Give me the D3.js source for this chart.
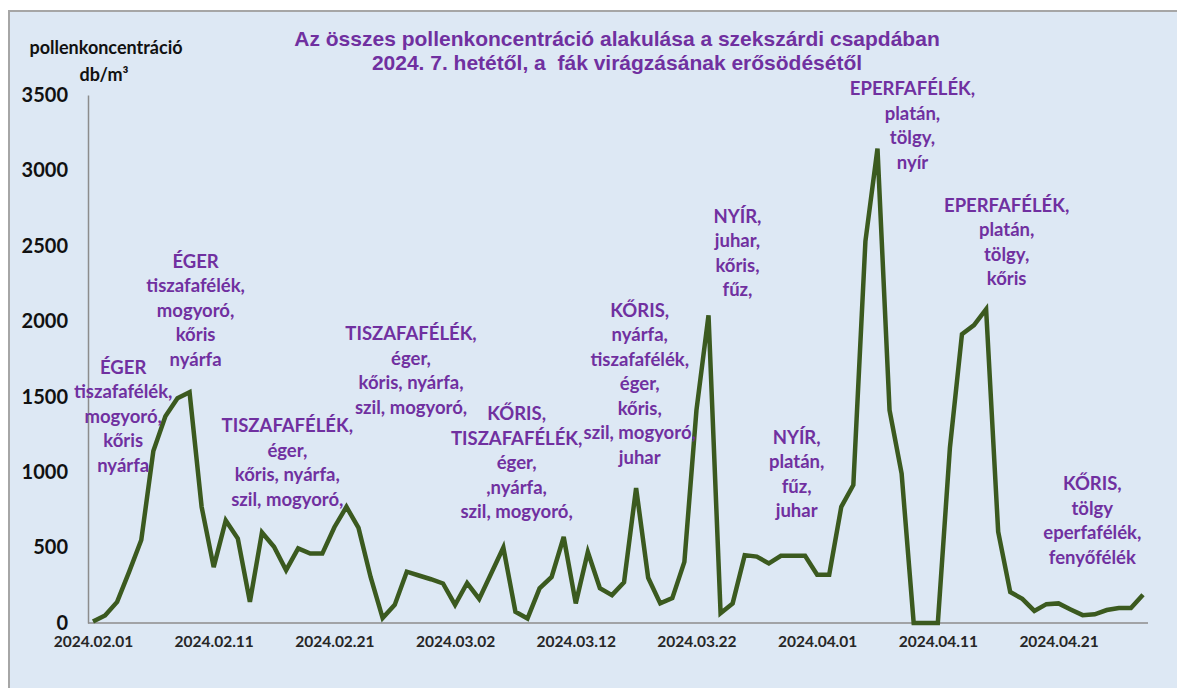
<!DOCTYPE html>
<html>
<head>
<meta charset="utf-8">
<script src="https://cdn.jsdelivr.net/npm/d3@7"></script>
<style>
  body { margin: 0; background: #fff; }
  svg { display: block; }
</style>
</head>
<body>
<div id="chart"></div>
<script>
// daily pollen counts from 2024.02.01 (db/m3)
const startDate = '2024-02-01';
const values = [
  10, 50, 140, 340, 550, 1140, 1370, 1490, 1530, 770,
  370, 680, 560, 140, 600, 505, 350, 495, 460, 460,
  635, 770, 630, 305, 33, 120, 340, 315, 290, 262,
  120, 265, 160, 330, 500, 75, 30, 230, 305, 570,
  130, 470, 230, 185, 270, 895, 300, 130, 165, 405,
  1410, 2040, 65, 130, 450, 440, 395, 445, 445, 445,
  320, 320, 770, 915, 2530, 3145, 1410, 990, 0, 0,
  0, 1160, 1915, 1975, 2080, 605, 205, 160, 80, 125,
  130, 90, 52, 58, 86, 100, 100, 188
];
const yTicks = [0, 500, 1000, 1500, 2000, 2500, 3000, 3500];
const xTickLabels = ['2024.02.01', '2024.02.11', '2024.02.21', '2024.03.02', '2024.03.12',
  '2024.03.22', '2024.04.01', '2024.04.11', '2024.04.21'];
const titleLines = ['Az összes pollenkoncentráció alakulása a szekszárdi csapdában',
  '2024. 7. hetétől, a  fák virágzásának erősödésétől'];
const yTitleLines = ['pollenkoncentráció', 'db/m³'];

// annotation texts, anchored at (day index, value) of their first line
const noteDays = [2.5, 8.5, 16.1, 26.35, 35.1, 45.3, 53.4, 58.3, 67.9, 75.7, 82.8];
const noteValues = [1697, 2400, 1312, 1922, 1392, 2075, 2698, 1233, 3546, 2771, 928];
const noteTexts = [
  ['ÉGER', 'tiszafafélék,', 'mogyoró,', 'kőris', 'nyárfa'],
  ['ÉGER', 'tiszafafélék,', 'mogyoró,', 'kőris', 'nyárfa'],
  ['TISZAFAFÉLÉK,', 'éger,', 'kőris, nyárfa,', 'szil, mogyoró,'],
  ['TISZAFAFÉLÉK,', 'éger,', 'kőris, nyárfa,', 'szil, mogyoró,'],
  ['KŐRIS,', 'TISZAFAFÉLÉK,', 'éger,', ',nyárfa,', 'szil, mogyoró,'],
  ['KŐRIS,', 'nyárfa,', 'tiszafafélék,', 'éger,', 'kőris,', 'szil, mogyoró,', 'juhar'],
  ['NYÍR,', 'juhar,', 'kőris,', 'fűz,'],
  ['NYÍR,', 'platán,', 'fűz,', 'juhar'],
  ['EPERFAFÉLÉK,', 'platán,', 'tölgy,', 'nyír'],
  ['EPERFAFÉLÉK,', 'platán,', 'tölgy,', 'kőris'],
  ['KŐRIS,', 'tölgy', 'eperfafélék,', 'fenyőfélék']
];

const width = 1177;
const height = 688;
const purple = '#7030a0';

const parse = d3.timeParse('%Y-%m-%d');
const day0 = parse(startDate);
const data = values.map((v, i) => ({ date: d3.timeDay.offset(day0, i), value: v }));

const svg = d3.select('#chart')
  .append('svg')
  .attr('width', width)
  .attr('height', height);

// chart area background with thin grey border on top and left
svg.append('rect')
  .attr('x', 9).attr('y', 11)
  .attr('width', width).attr('height', height)
  .attr('fill', '#dde8f4')
  .attr('stroke', '#a6a6a6')
  .attr('stroke-width', 2);

const x = d3.scaleTime()
  .domain([day0, d3.timeDay.offset(day0, values.length - 1)])
  .range([93, 1143]);

const y = d3.scaleLinear()
  .domain([0, 3500])
  .range([623, 95]);

// axes
const xAxis = d3.axisBottom(x)
  .tickValues(xTickLabels.map((s) => d3.timeParse('%Y.%m.%d')(s)))
  .tickFormat(d3.timeFormat('%Y.%m.%d'))
  .tickSize(0)
  .tickPadding(13);

const gx = svg.append('g')
  .attr('transform', 'translate(0,623)')
  .call(xAxis);
gx.select('.domain').attr('d', 'M88,0H1148').attr('stroke', '#8c8c8c').attr('stroke-width', 1.5);
gx.selectAll('text')
  .attr('fill', '#262626')
  .style('font', 'bold 15.5px Lato');

const yAxis = d3.axisLeft(y)
  .tickValues(yTicks)
  .tickFormat(d3.format('d'))
  .tickSize(0)
  .tickPadding(20);

const gy = svg.append('g')
  .attr('transform', 'translate(88,0)')
  .call(yAxis);
gy.select('.domain').attr('stroke', '#8c8c8c').attr('stroke-width', 1.5);
gy.selectAll('text')
  .attr('fill', '#111')
  .style('font', 'bold 20px Lato');

// the line
const line = d3.line()
  .x((d) => x(d.date))
  .y((d) => y(d.value));

svg.append('path')
  .datum(data)
  .attr('d', line)
  .attr('fill', 'none')
  .attr('stroke', '#3b5a1f')
  .attr('stroke-width', 4.5)
  .attr('stroke-linejoin', 'miter');

// title
svg.append('g')
  .selectAll('text')
  .data(titleLines)
  .join('text')
  .attr('x', 617)
  .attr('y', (d, i) => 38 + i * 24)
  .attr('text-anchor', 'middle')
  .attr('dominant-baseline', 'central')
  .attr('fill', purple)
  .style('white-space', 'pre')
  .style('font', 'bold 21px "Liberation Sans", Arial, sans-serif')
  .text((d) => d);

// y axis title
svg.append('g')
  .selectAll('text')
  .data(yTitleLines)
  .join('text')
  .attr('x', (d, i) => (i === 0 ? 106 : 104))
  .attr('y', (d, i) => 47 + i * 27)
  .attr('text-anchor', 'middle')
  .attr('dominant-baseline', 'central')
  .attr('fill', '#111')
  .style('font', 'bold 18px Lato')
  .text((d) => d);

// annotations
const notes = svg.append('g')
  .selectAll('text')
  .data(noteTexts)
  .join('text')
  .attr('text-anchor', 'middle')
  .attr('fill', purple)
  .style('font', 'bold 18.5px Lato');

const dayWidth = x(d3.timeDay.offset(day0, 1)) - x(day0);

notes.each(function (lines, k) {
  const nx = x(day0) + dayWidth * noteDays[k];
  const ny = y(noteValues[k]);
  d3.select(this)
    .selectAll('tspan')
    .data(lines)
    .join('tspan')
    .attr('x', nx)
    .attr('y', (d, i) => ny + i * 24.5)
    .attr('dominant-baseline', 'central')
    .text((d) => d);
});
</script>
</body>
</html>
